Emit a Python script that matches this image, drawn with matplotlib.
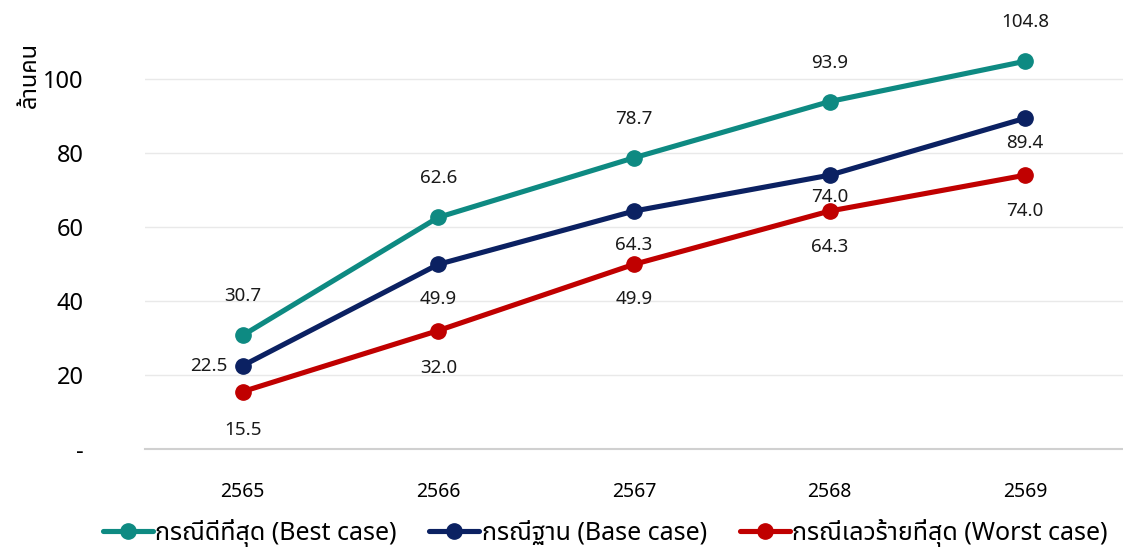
import matplotlib
matplotlib.use('Agg')
import matplotlib.pyplot as plt
from matplotlib import font_manager
from matplotlib.ft2font import FT2Font

# ── data ─────────────────────────────────────────────────────────────────────
years = ['2565', '2566', '2567', '2568', '2569']
best  = [30.7, 62.6, 78.7, 93.9, 104.8]
base  = [22.5, 49.9, 64.3, 74.0, 89.4]
worst = [15.5, 32.0, 49.9, 64.3, 74.0]

series_names = ['กรณีดีที่สุด (Best case)',
                'กรณีฐาน (Base case)',
                'กรณีเลวร้ายที่สุด (Worst case)']
colors = ['#0E8A82', '#0B2162', '#C00000']

# label offsets in pixels (dx, dy, ha) per point
best_off  = [(0, 39, 'center')] * 5
base_off  = [(-15, 0, 'right'), (0, -35, 'center'), (0, -34, 'center'),
             (0, -22, 'center'), (0, -25, 'center')]
worst_off = [(0, -38, 'center'), (0, -37, 'center'), (0, -35, 'center'),
             (0, -36, 'center'), (0, -36, 'center')]


def thai_family():
    pref = ['Tahoma', 'Noto Sans Thai', 'Noto Sans Thai UI', 'Loma', 'Garuda',
            'Sarabun', 'Kinnari', 'Norasi', 'Waree', 'Umpush', 'Laksaman']
    found = {}
    for f in font_manager.fontManager.ttflist:
        try:
            if 0x0E01 in FT2Font(f.fname).get_charmap():
                found.setdefault(f.name, f.fname)
        except Exception:
            pass
    for p in pref:
        if p in found:
            return p
    return next(iter(found), None)


fam = thai_family()
plt.rcParams['font.family'] = [fam, 'DejaVu Sans'] if fam else ['DejaVu Sans']

fig = plt.figure(figsize=(11.23, 5.57), dpi=100)
ax = fig.add_axes([0.129, 0.194, 0.871, 0.797])

x = list(range(len(years)))
for vals, name, col, offs in zip([best, base, worst], series_names, colors,
                                 [best_off, base_off, worst_off]):
    ax.plot(x, vals, color=col, lw=3.7, marker='o', ms=11, label=name,
            solid_capstyle='round', zorder=3)
    for xi, v, (dx, dy, ha) in zip(x, vals, offs):
        ax.annotate(f'{v:.1f}', (xi, v), xytext=(dx, dy),
                    textcoords='offset pixels', ha=ha, va='center',
                    fontsize=13.5, color='#1a1a1a')

ax.set_xlim(-0.5, len(years) - 0.5)
ax.set_ylim(0, 120)
ax.set_yticks([0, 20, 40, 60, 80, 100])
ax.set_yticklabels(['-', '20', '40', '60', '80', '100'])
ax.set_xticks(x)
ax.set_xticklabels(years)
ax.tick_params(axis='y', length=0, labelsize=17, pad=44)
ax.tick_params(axis='x', length=0, labelsize=14, pad=24)
for lbl in ax.get_yticklabels():
    lbl.set_horizontalalignment('right')

ax.yaxis.grid(True, color='#E9E9E9', lw=1)
for s in ['top', 'right', 'left']:
    ax.spines[s].set_visible(False)
ax.spines['bottom'].set_color('#D0D0D0')
ax.spines['bottom'].set_linewidth(1.5)
ax.set_axisbelow(True)

fig.text(0.027, 0.865, 'ล้านคน', rotation=90, ha='center', va='center',
         fontsize=17, fontweight='bold')

fig.legend(loc='lower center', bbox_to_anchor=(0.539, -0.022), ncol=3,
           frameon=False, fontsize=18, handlelength=2.0, columnspacing=1.3,
           handletextpad=0.1)

fig.savefig('out.png', dpi=100, facecolor='white')
